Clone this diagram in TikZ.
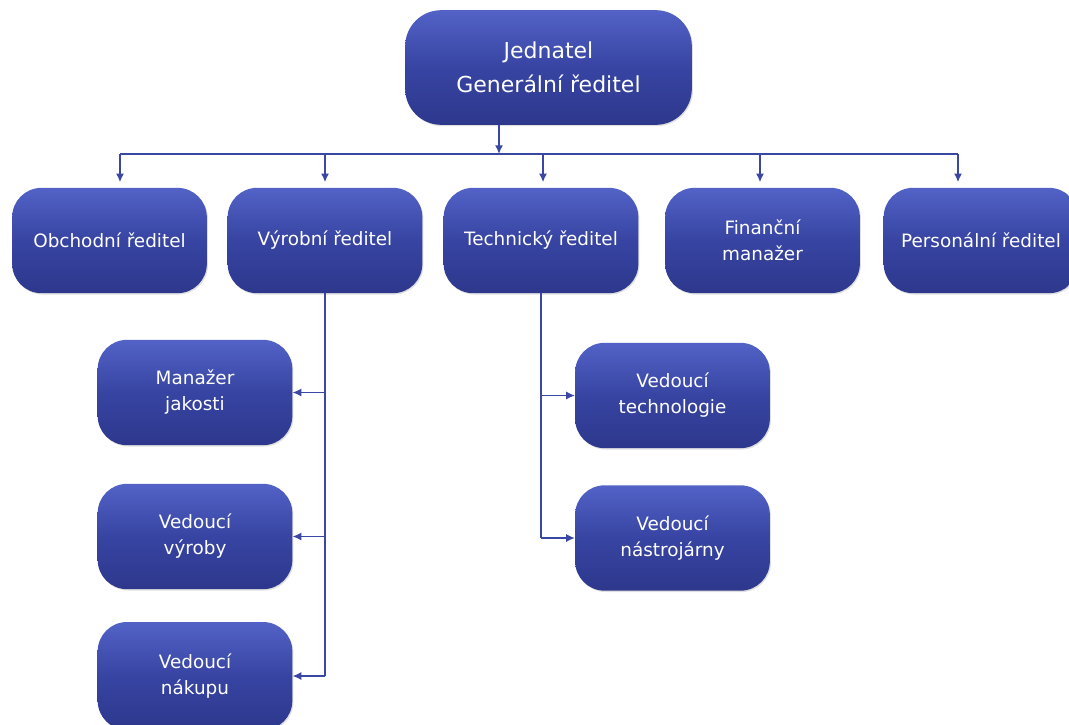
\documentclass[tikz,border=0pt]{standalone}
\usepackage{fontspec}
\setmainfont{DejaVu Sans}
\usepackage{xcolor}
\newlength\orgBoxWidth
\setlength\orgBoxWidth{146pt}
\newlength\orgBoxHeight
\setlength\orgBoxHeight{79pt}
\definecolor{boxTop}{HTML}{5262C6}
\definecolor{boxMid}{HTML}{3744A2}
\definecolor{boxBottom}{HTML}{2D388C}
\definecolor{linkBlue}{HTML}{3A47A3}
\usetikzlibrary{arrows.meta,shadows}
\tikzset{
  orgBox/.style={%
    rectangle,
    rounded corners=22pt,
    minimum width=\orgBoxWidth,
    minimum height=\orgBoxHeight,
    top color=boxTop,
    bottom color=boxBottom,
    middle color=boxMid,
    text=white,
    align=center,
    inner sep=2pt,
    font=\fontsize{13.8}{19.5}\selectfont,
    drop shadow={opacity=0.25,shadow xshift=0.8pt,shadow yshift=-1pt}},
  orgTop/.style={%
    orgBox,
    rounded corners=27pt,
    minimum width=215pt,
    minimum height=86pt,
    font=\fontsize{16.5}{25.5}\selectfont},
  orgLine/.style={%
    draw=linkBlue,
    line width=1.1pt},
  orgArrow/.style={%
    orgLine,
    -{Latex[length=6.5pt,width=6pt]}},
  }
\begin{document}
\begin{tikzpicture}[x=0.75pt,y=-0.75pt]
  \clip (0,0) rectangle (1069,724);
  % board
  \node[orgTop] (jednatel) at (548.5,67.5) {Jednatel\\Generální ředitel};
  % directors
  \node[orgBox] (obchodni) at (109.5,240.5) {Obchodní ředitel};
  \node[orgBox] (vyrobni) at (325,240.5) {Výrobní ředitel};
  \node[orgBox] (technicky) at (541,240.5) {Technický ředitel};
  \node[orgBox] (financni) at (762.5,240.5) {Finanční\\manažer};
  \node[orgBox] (personalni) at (981,240.5) {Personální ředitel};
  % production
  \node[orgBox] (jakost) at (195,392.5) {Manažer\\jakosti};
  \node[orgBox] (vyroba) at (195,536.5) {Vedoucí\\výroby};
  \node[orgBox,minimum height=81pt] (nakup) at (195,676) {Vedoucí\\nákupu};
  % technical
  \node[orgBox] (technologie) at (672.5,395.5) {Vedoucí\\technologie};
  \node[orgBox] (nastrojarna) at (672.5,538) {Vedoucí\\nástrojárny};
  % bus
  \coordinate (busTop) at (499,154);
  \coordinate (drop 1) at (120,154);
  \coordinate (drop 2) at (325,154);
  \coordinate (drop 3) at (543,154);
  \coordinate (drop 4) at (760,154);
  \coordinate (drop 5) at (958,154);
  \draw[orgArrow] (busTop |- jednatel.south) -- (busTop);
  \draw[orgLine] (drop 1) -- (drop 5);
  \draw[orgArrow,shorten >=4pt] (drop 1) -- (drop 1 |- obchodni.north);
  \draw[orgArrow,shorten >=4pt] (drop 2) -- (drop 2 |- vyrobni.north);
  \draw[orgArrow,shorten >=4pt] (drop 3) -- (drop 3 |- technicky.north);
  \draw[orgArrow,shorten >=4pt] (drop 4) -- (drop 4 |- financni.north);
  \draw[orgArrow,shorten >=4pt] (drop 5) -- (drop 5 |- personalni.north);
  % branches
  \draw[orgLine] (vyrobni.south) -- (vyrobni.south |- nakup.east);
  \draw[orgArrow] (vyrobni.south |- jakost.east) -- (jakost.east);
  \draw[orgArrow] (vyrobni.south |- vyroba.east) -- (vyroba.east);
  \draw[orgArrow] (vyrobni.south |- nakup.east) -- (nakup.east);
  \draw[orgLine] (technicky.south) -- (technicky.south |- nastrojarna.west);
  \draw[orgArrow] (technicky.south |- technologie.west) -- (technologie.west);
  \draw[orgArrow] (technicky.south |- nastrojarna.west) -- (nastrojarna.west);
\end{tikzpicture}
\end{document}
